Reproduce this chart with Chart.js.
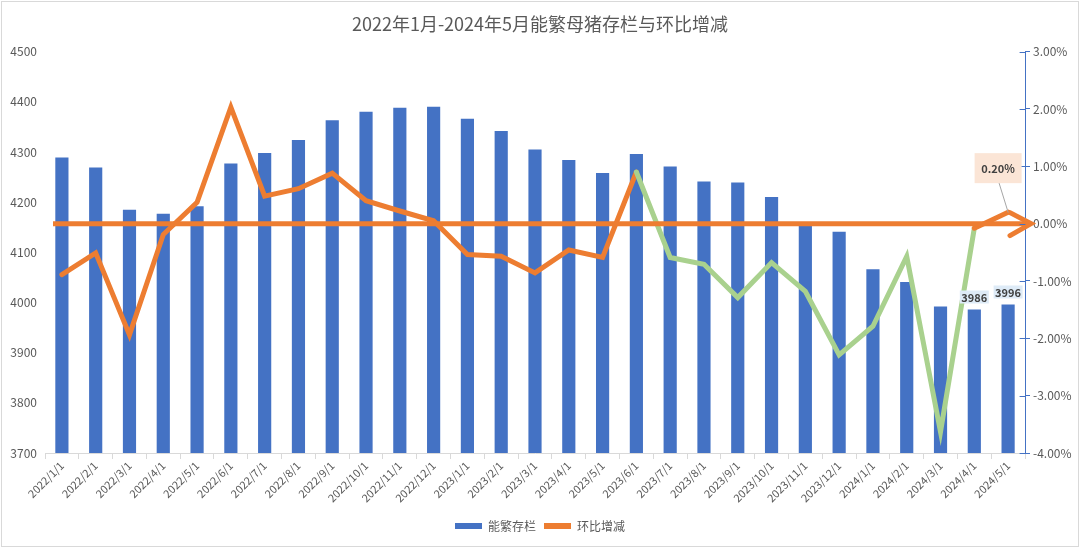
<!DOCTYPE html>
<html>
<head>
<meta charset="utf-8">
<script src="https://cdn.jsdelivr.net/npm/chart.js@4.4.1/dist/chart.umd.min.js"></script>
<style>
  body { margin: 0; background: #fff; }
  canvas { display: block; }
</style>
</head>
<body>
<canvas id="sowChart" width="1080" height="548"></canvas>
<script>
// months on the x axis
const months = [
  '2022/1/1', '2022/2/1', '2022/3/1', '2022/4/1', '2022/5/1', '2022/6/1',
  '2022/7/1', '2022/8/1', '2022/9/1', '2022/10/1', '2022/11/1', '2022/12/1',
  '2023/1/1', '2023/2/1', '2023/3/1', '2023/4/1', '2023/5/1', '2023/6/1',
  '2023/7/1', '2023/8/1', '2023/9/1', '2023/10/1', '2023/11/1', '2023/12/1',
  '2024/1/1', '2024/2/1', '2024/3/1', '2024/4/1', '2024/5/1'
];
// 能繁母猪存栏 (万头)
const sowStock = [
  4289, 4269, 4185, 4177, 4192, 4277, 4298, 4324, 4363, 4380, 4388, 4390,
  4366, 4342, 4305, 4284, 4258, 4296, 4271, 4241, 4239, 4210, 4153, 4141,
  4066, 4041, 3992, 3986, 3996
];
// 环比增减 (%)
const momChange = [
  -0.89, -0.51, -1.94, -0.19, 0.37, 2.03, 0.48, 0.61, 0.88, 0.40, 0.22, 0.05,
  -0.54, -0.57, -0.86, -0.46, -0.59, 0.90, -0.59, -0.71, -1.29, -0.68, -1.18, -2.29,
  -1.79, -0.57, -3.63, -0.08, 0.20
];
const stockRange = [3700, 4500];
const pctRange = [-4, 3];
// green stretch of the line, and which points carry labels
const greenFrom = '2023/6/1';
const greenTo = '2024/4/1';
const stockLabelMonths = ['2024/4/1', '2024/5/1'];
const pctLabelMonths = ['2024/5/1'];

const blue = '#4472C4';
const orange = '#ED7D31';
const green = '#A9D18E';
const grey = '#595959';
const fontFamily = '"Noto Sans CJK SC", "Noto Sans", sans-serif';

const greenStart = months.indexOf(greenFrom);
const greenEnd = months.indexOf(greenTo);

function drawTag(c, text, cx, cy, w, h, fill) {
    c.fillStyle = fill;
    c.fillRect(cx - w / 2, cy - h / 2, w, h);
    c.fillStyle = '#404040';
    c.font = 'bold 11px ' + fontFamily;
    c.textAlign = 'center';
    c.textBaseline = 'middle';
    c.fillText(text, cx, cy + 0.5);
}

const overlayPlugin = {
    id: 'overlay',
    beforeDraw(chart) {
        const c = chart.ctx;
        c.save();
        c.fillStyle = '#fff';
        c.fillRect(0, 0, chart.width, chart.height);
        c.strokeStyle = '#d9d9d9';
        c.lineWidth = 1;
        c.strokeRect(1.5, 1.5, chart.width - 3, chart.height - 3);
        c.restore();
    },
    afterDatasetsDraw(chart) {
        const c = chart.ctx;
        const area = chart.chartArea;
        const y1 = chart.scales.y1;
        const zeroY = y1.getPixelForValue(0);

        // zero line with arrow head
        c.save();
        c.strokeStyle = orange;
        c.lineWidth = 5;
        c.lineCap = 'butt';
        c.beginPath();
        c.moveTo(area.left + 8, zeroY);
        c.lineTo(area.right + 4, zeroY);
        c.stroke();
        c.lineCap = 'round';
        c.lineJoin = 'miter';
        c.beginPath();
        c.moveTo(area.right - 15, zeroY - 11);
        c.lineTo(area.right + 6, zeroY);
        c.lineTo(area.right - 15, zeroY + 12);
        c.stroke();

        // inner half of the right axis tick marks
        c.strokeStyle = blue;
        c.lineWidth = 1;
        y1.ticks.forEach((t, k) => {
            const ty = Math.round(y1.getPixelForTick(k)) + 0.5;
            c.beginPath();
            c.moveTo(area.right - 5, ty);
            c.lineTo(area.right, ty);
            c.stroke();
        });

        // bar value tags
        const barMeta = chart.getDatasetMeta(0);
        stockLabelMonths.forEach(m => {
            const i = months.indexOf(m);
            const bar = barMeta.data[i];
            drawTag(c, String(sowStock[i]), bar.x, bar.y - 12.5, 29, 13, '#DEEBF7');
        });

        // percentage tag with leader line
        const lineMeta = chart.getDatasetMeta(1);
        pctLabelMonths.forEach(m => {
            const i = months.indexOf(m);
            const pt = lineMeta.data[i];
            const bx = pt.x - 10, by = pt.y - 44;
            c.strokeStyle = '#A6A6A6';
            c.lineWidth = 1;
            c.beginPath();
            c.moveTo(bx + 1, by + 15);
            c.lineTo(pt.x, pt.y);
            c.stroke();
            drawTag(c, momChange[i].toFixed(2) + '%', bx, by, 47, 30, '#FBE5D6');
        });
        c.restore();
    }
};

const ctx = document.getElementById('sowChart').getContext('2d');
const sowChart = new Chart(ctx, {
    type: 'bar',
    data: {
        labels: months,
        datasets: [{
            type: 'bar',
            label: '能繁存栏',
            data: sowStock,
            backgroundColor: blue,
            categoryPercentage: 1,
            barPercentage: 0.39,
            yAxisID: 'y',
            order: 2
        }, {
            type: 'line',
            label: '环比增减',
            data: momChange,
            borderColor: orange,
            backgroundColor: orange,
            borderWidth: 5,
            borderCapStyle: 'round',
            pointRadius: 0,
            tension: 0,
            yAxisID: 'y1',
            order: 1,
            segment: {
                borderColor: s => (s.p0DataIndex >= greenStart && s.p0DataIndex < greenEnd) ? green : orange
            }
        }]
    },
    options: {
        responsive: false,
        animation: false,
        layout: { padding: { left: 0, right: 0, top: 0, bottom: 6 } },
        plugins: {
            title: {
                display: true,
                text: '2022年1月-2024年5月能繁母猪存栏与环比增减',
                color: grey,
                font: { family: fontFamily, size: 18, weight: 'normal' },
                padding: { top: 13, bottom: 17 }
            },
            legend: {
                position: 'bottom',
                labels: {
                    color: grey,
                    font: { family: fontFamily, size: 12 },
                    boxWidth: 27,
                    boxHeight: 6,
                    padding: 8,
                    generateLabels(chart) {
                        return Chart.defaults.plugins.legend.labels.generateLabels(chart)
                            .sort((a, b) => a.datasetIndex - b.datasetIndex)
                            .map(item => ({
                                ...item,
                                lineWidth: 0,
                                fillStyle: item.datasetIndex === 0 ? blue : orange
                            }));
                    }
                }
            },
            tooltip: { enabled: false }
        },
        scales: {
            x: {
                grid: {
                    display: true,
                    drawOnChartArea: false,
                    color: '#d9d9d9',
                    tickLength: 6
                },
                border: { color: '#d9d9d9' },
                ticks: {
                    color: grey,
                    font: { family: fontFamily, size: 11 },
                    minRotation: 45,
                    maxRotation: 45,
                    autoSkip: false,
                    padding: 0
                },
                afterFit(scale) { scale.height = 59; }
            },
            y: {
                position: 'left',
                min: stockRange[0],
                max: stockRange[1],
                grid: { display: false },
                border: { display: false },
                ticks: {
                    stepSize: 100,
                    color: grey,
                    padding: 0,
                    font: { family: fontFamily, size: 12 },
                    callback: v => String(v)
                },
                afterFit(scale) { scale.width = 45; }
            },
            y1: {
                position: 'right',
                min: pctRange[0],
                max: pctRange[1],
                grid: {
                    display: true,
                    drawOnChartArea: false,
                    color: blue,
                    tickLength: 5
                },
                border: { color: blue },
                ticks: {
                    stepSize: 1,
                    color: grey,
                    padding: 3,
                    font: { family: fontFamily, size: 12 },
                    callback: v => v.toFixed(2) + '%'
                },
                afterFit(scale) { scale.width = 55; }
            }
        }
    },
    plugins: [overlayPlugin]
});
</script>
</body>
</html>
